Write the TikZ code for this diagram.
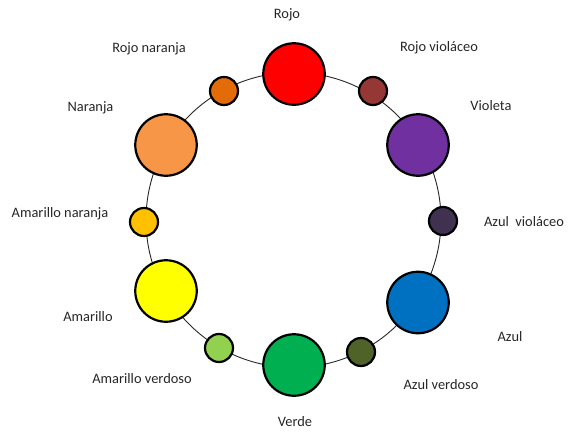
\documentclass[tikz,border=0pt]{standalone}
\usepackage{fontspec}
\setmainfont{Carlito}
\definecolor{cRojo}{HTML}{FF0000}
\definecolor{cRojoNaranja}{HTML}{E36C09}
\definecolor{cRojoViol}{HTML}{953735}
\definecolor{cVioleta}{HTML}{7030A0}
\definecolor{cAzulViol}{HTML}{403151}
\definecolor{cAzul}{HTML}{0070C0}
\definecolor{cAzulVerd}{HTML}{4F6228}
\definecolor{cVerde}{HTML}{00B050}
\definecolor{cAmVerd}{HTML}{92D050}
\definecolor{cAmarillo}{HTML}{FFFF00}
\definecolor{cAmNar}{HTML}{FFC000}
\definecolor{cNaranja}{HTML}{F79646}
\tikzset{
  big/.style={circle, draw=black, line width=2.2pt, minimum size=61.5pt, inner sep=0pt},
  small/.style={circle, draw=black, line width=2.2pt, minimum size=28pt, inner sep=0pt},
  lbl/.style={font=\fontsize{14.4pt}{16pt}\selectfont, text=black!85, inner sep=0pt},
  ring/.style={draw=black!85, line width=0.9pt}
}
\begin{document}
\begin{tikzpicture}[x=1pt,y=-1pt]
\useasboundingbox (0,0) rectangle (582,445);
\coordinate (c) at (293.5,220);
\draw[ring] (c) circle[radius=147.5];
% primary/secondary (big)
\node[big, fill=cRojo] (rojo) at (294,74) {};
\node[big, fill=cVioleta] (violeta) at (418,145) {};
\node[big, fill=cAzul] (azul) at (418,302.5) {};
\node[big, fill=cVerde] (verde) at (294,365) {};
\node[big, fill=cAmarillo] (amarillo) at (166,291) {};
\node[big, fill=cNaranja] (naranja) at (166,145) {};
% tertiary (small)
\node[small, fill=cRojoNaranja] (rojonar) at (224,91) {};
\node[small, fill=cRojoViol] (rojoviol) at (373,91) {};
\node[small, fill=cAzulViol] (azulviol) at (443,221) {};
\node[small, fill=cAzulVerd] (azulverd) at (361,352) {};
\node[small, fill=cAmVerd] (amverd) at (219,348) {};
\node[small, fill=cAmNar] (amnar) at (144,222) {};
% labels
\node[lbl] (lrojo) at (287,15) {Rojo};
\node[lbl] (lrojoviol) at (439,48) {Rojo violáceo};
\node[lbl] (lvioleta) at (491,106) {Violeta};
\node[lbl] (lazulviol) at (524,222) {Azul\ \ violáceo};
\node[lbl] (lazul) at (510,337) {Azul};
\node[lbl] (lazulverd) at (441,385) {Azul verdoso};
\node[lbl] (lverde) at (295,422) {Verde};
\node[lbl] (lamverd) at (142,379) {Amarillo verdoso};
\node[lbl] (lamarillo) at (88,317) {Amarillo};
\node[lbl] (lamnar) at (60,214) {Amarillo naranja};
\node[lbl] (lnaranja) at (90.5,108) {Naranja};
\node[lbl] (lrojonar) at (149,49) {Rojo naranja};
\end{tikzpicture}
\end{document}
